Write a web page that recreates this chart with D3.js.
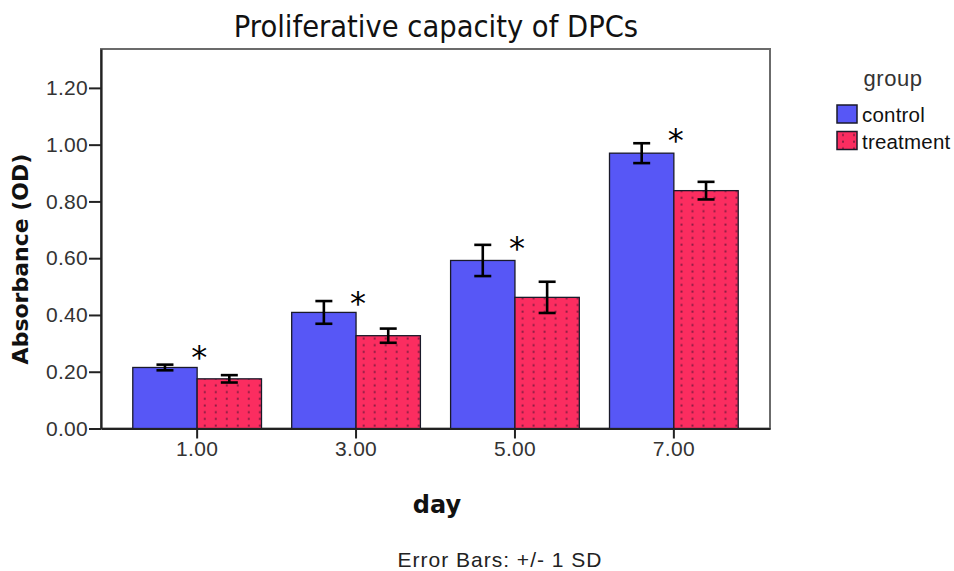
<!DOCTYPE html>
<html>
<head>
<meta charset="utf-8">
<script src="https://cdn.jsdelivr.net/npm/d3@7"></script>
<style>
  body { margin: 0; background: #fff; }
  svg { display: block; }
</style>
</head>
<body>
<div id="chart"></div>
<script>
// chart values
var days = ['1.00', '3.00', '5.00', '7.00'];
var groups = ['control', 'treatment'];
var controlMean = [0.215, 0.409, 0.592, 0.970];
var controlSD = [0.010, 0.040, 0.055, 0.035];
var treatmentMean = [0.175, 0.327, 0.462, 0.838];
var treatmentSD = [0.013, 0.025, 0.055, 0.031];
// height (in OD) where the significance star sits
var starAt = [0.268, 0.461, 0.654, 1.035];
var yTicks = [0, 0.2, 0.4, 0.6, 0.8, 1.0, 1.2];

var W = 954, H = 571;
var m = { top: 49, right: 184, bottom: 142.5, left: 101 };
var sans = '"Liberation Sans", Arial, sans-serif';

var svg = d3.select('#chart').append('svg')
  .attr('width', W)
  .attr('height', H)
  .style('font-family', sans);

// dotted fill for the treatment bars
var defs = svg.append('defs');
var pat = defs.append('pattern')
  .attr('id', 'dots')
  .attr('patternUnits', 'userSpaceOnUse')
  .attr('width', 11)
  .attr('height', 6.7);
pat.append('rect').attr('width', 11).attr('height', 6.7).attr('fill', '#fb2d60');
pat.append('rect').attr('x', 5).attr('y', 2.5).attr('width', 2).attr('height', 2).attr('fill', '#8e1d43');

var colors = { control: '#5757f6', treatment: 'url(#dots)' };

var plotW = W - m.left - m.right;
var plotH = H - m.top - m.bottom;

var x = d3.scaleBand()
  .domain(days)
  .range([m.left, m.left + plotW])
  .paddingInner(0.19)
  .paddingOuter(0.2);

var xg = d3.scaleBand()
  .domain(groups)
  .range([0, x.bandwidth()]);

var y = d3.scaleLinear()
  .domain([0, 1.337])
  .range([m.top + plotH, m.top]);

var rows = days.map(function(d, i) {
  return {
    day: d,
    vals: [
      { g: 'control', mean: controlMean[i], sd: controlSD[i] },
      { g: 'treatment', mean: treatmentMean[i], sd: treatmentSD[i] }
    ],
    star: starAt[i]
  };
});

// plot frame
svg.append('rect')
  .attr('x', m.left)
  .attr('y', m.top)
  .attr('width', plotW)
  .attr('height', plotH)
  .attr('fill', '#fff')
  .attr('stroke', '#6b6b6b')
  .attr('stroke-width', 2);

// bars
var grp = svg.selectAll('.day')
  .data(rows)
  .enter().append('g')
  .attr('class', 'day')
  .attr('transform', function(d) { return 'translate(' + x(d.day) + ',0)'; });

grp.selectAll('rect')
  .data(function(d) { return d.vals; })
  .enter().append('rect')
  .attr('x', function(d) { return xg(d.g); })
  .attr('y', function(d) { return y(d.mean); })
  .attr('width', xg.bandwidth())
  .attr('height', function(d) { return y(0) - y(d.mean); })
  .attr('fill', function(d) { return colors[d.g]; })
  .attr('stroke', '#1a1a2a')
  .attr('stroke-width', 1.3);

// error bars
var err = grp.selectAll('.err')
  .data(function(d) { return d.vals; })
  .enter().append('g')
  .attr('class', 'err')
  .attr('stroke', '#000')
  .attr('stroke-width', 2.6);

var cx = function(d) { return xg(d.g) + xg.bandwidth() / 2; };
err.append('line')
  .attr('x1', cx).attr('x2', cx)
  .attr('y1', function(d) { return y(d.mean + d.sd); })
  .attr('y2', function(d) { return y(d.mean - d.sd); });
[1, -1].forEach(function(s) {
  err.append('line')
    .attr('x1', function(d) { return cx(d) - 8.5; })
    .attr('x2', function(d) { return cx(d) + 8.5; })
    .attr('y1', function(d) { return y(d.mean + s * d.sd); })
    .attr('y2', function(d) { return y(d.mean + s * d.sd); });
});

// significance stars
grp.append('text')
  .attr('x', x.bandwidth() / 2 + 2)
  .attr('y', function(d) { return y(d.star) + 16; })
  .attr('text-anchor', 'middle')
  .style('font-size', '32px')
  .style('font-family', '"DejaVu Sans", sans-serif')
  .text('*');

// axes
var yAxis = svg.append('g')
  .attr('transform', 'translate(' + m.left + ',0)')
  .call(d3.axisLeft(y).tickValues(yTicks).tickFormat(d3.format('.2f'))
    .tickSize(12).tickSizeOuter(0).tickPadding(1));
yAxis.select('.domain').attr('stroke', '#222').attr('stroke-width', 2.2);
yAxis.selectAll('.tick line').attr('stroke', '#222').attr('stroke-width', 2);
yAxis.selectAll('.tick text')
  .style('font-size', '21px')
  .style('letter-spacing', '0.3px')
  .style('font-family', sans)
  .attr('fill', '#333');

var xAxis = svg.append('g')
  .attr('transform', 'translate(0,' + y(0) + ')')
  .call(d3.axisBottom(x).tickSize(10).tickSizeOuter(0).tickPadding(3));
xAxis.select('.domain').attr('stroke', '#222').attr('stroke-width', 2.2);
xAxis.selectAll('.tick line').attr('stroke', '#222').attr('stroke-width', 2);
xAxis.selectAll('.tick text')
  .style('font-size', '21px')
  .style('letter-spacing', '0.3px')
  .style('font-family', sans)
  .attr('fill', '#333');

// title and axis labels
svg.append('text')
  .attr('x', 436)
  .attr('y', 37)
  .attr('text-anchor', 'middle')
  .style('font-family', '"DejaVu Sans Condensed", "DejaVu Sans", sans-serif')
  .style('font-size', '30.5px')
  .attr('fill', '#111')
  .text('Proliferative capacity of DPCs');

svg.append('text')
  .attr('transform', 'translate(28,259) rotate(-90)')
  .attr('text-anchor', 'middle')
  .style('font-family', '"DejaVu Sans", Verdana, sans-serif')
  .style('font-weight', 'bold')
  .style('font-size', '22px')
  .attr('fill', '#111')
  .text('Absorbance (OD)');

svg.append('text')
  .attr('x', 437)
  .attr('y', 513)
  .attr('text-anchor', 'middle')
  .style('font-family', '"DejaVu Sans", Verdana, sans-serif')
  .style('font-weight', 'bold')
  .style('font-size', '24px')
  .attr('fill', '#111')
  .text('day');

svg.append('text')
  .attr('x', 500)
  .attr('y', 567)
  .attr('text-anchor', 'middle')
  .style('font-size', '21px')
  .style('letter-spacing', '1px')
  .attr('fill', '#222')
  .text('Error Bars: +/- 1 SD');

// legend
var leg = svg.append('g').attr('transform', 'translate(837,0)');
leg.append('text')
  .attr('x', 56)
  .attr('y', 86)
  .attr('text-anchor', 'middle')
  .style('font-size', '22px')
  .style('letter-spacing', '0.5px')
  .attr('fill', '#333')
  .text('group');

var li = leg.selectAll('.li')
  .data(groups)
  .enter().append('g')
  .attr('class', 'li')
  .attr('transform', function(d, i) { return 'translate(0,' + (105 + i * 26.5) + ')'; });
li.append('rect')
  .attr('width', 20)
  .attr('height', 18)
  .attr('fill', function(d) { return colors[d]; })
  .attr('stroke', '#1a1a2a')
  .attr('stroke-width', 1.5);
li.append('text')
  .attr('x', 25)
  .attr('y', 17)
  .style('font-size', '20.5px')
  .style('letter-spacing', '0.2px')
  .attr('fill', '#111')
  .text(function(d) { return d; });
</script>
</body>
</html>
